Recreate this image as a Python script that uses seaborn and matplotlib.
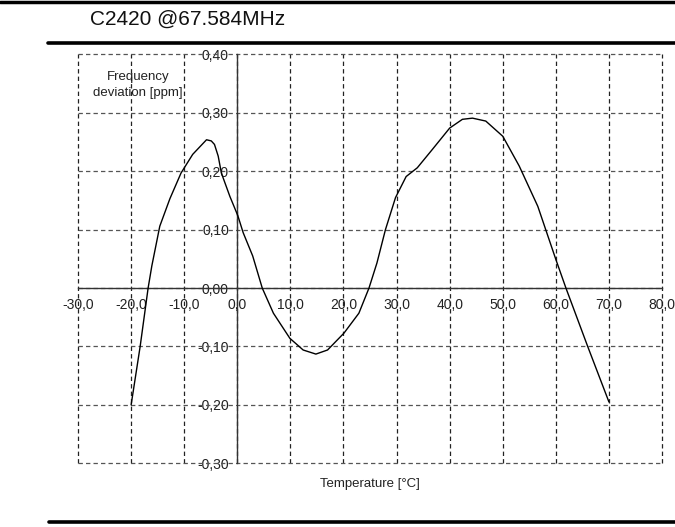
import matplotlib
matplotlib.use("Agg")
import matplotlib.pyplot as plt
import seaborn as sns
import pandas as pd
from matplotlib.lines import Line2D

# data
temperature = [-20.0, -18.3, -16.8, -16.1, -14.6, -12.7, -10.6, -8.4, -5.8, -4.9,
               -4.3, -3.6, -3.0, -1.4, 0.1, 1.1, 2.9, 4.7, 6.8, 9.9, 12.4,
               14.8, 17.0, 20.1, 22.9, 24.8, 26.3, 27.9, 29.8, 31.8, 33.9,
               36.7, 40.0, 42.4, 44.3, 46.8, 50.0, 53.1, 56.6, 60.0, 61.9,
               66.0, 70.0]
deviation = [-0.200, -0.100, 0.000, 0.038, 0.106, 0.153, 0.197, 0.229, 0.254, 0.252,
             0.246, 0.226, 0.197, 0.157, 0.124, 0.095, 0.055, 0.000, -0.043, -0.086, -0.106,
             -0.113, -0.106, -0.077, -0.043, 0.000, 0.043, 0.100, 0.155, 0.191, 0.206,
             0.237, 0.274, 0.289, 0.291, 0.286, 0.260, 0.209, 0.140, 0.049, 0.000,
             -0.100, -0.195]

x_ticks = [-30, -20, -10, 0, 10, 20, 30, 40, 50, 60, 70, 80]
x_labels = ["-30,0", "-20,0", "-10,0", "0,0", "10,0", "20,0", "30,0",
            "40,0", "50,0", "60,0", "70,0", "80,0"]
y_ticks = [-0.3, -0.2, -0.1, 0.0, 0.1, 0.2, 0.3, 0.4]
y_labels = ["-0,30", "-0,20", "-0,10", "0,00", "0,10", "0,20", "0,30", "0,40"]

title = "C2420 @67.584MHz"


def main():
    sns.set_theme(style="white")
    plt.rcParams['font.family'] = ['Liberation Sans', 'DejaVu Sans']

    df = pd.DataFrame({"temp": temperature, "dev": deviation})

    fig = plt.figure(figsize=(6.75, 5.27), dpi=100)
    ax = fig.add_axes([0.1156, 0.1209, 0.8652, 0.7757])

    sns.lineplot(data=df, x="temp", y="dev", sort=False, color="black",
                 linewidth=1.0, ax=ax, zorder=5)

    ax.set_xlim(-30, 80)
    ax.set_ylim(-0.3, 0.4)

    # dashed grid, edges included
    for xv in x_ticks:
        ax.axvline(xv, color="#222222", lw=0.9, ls=(0, (3.5, 2.5)), clip_on=False, zorder=1)
    for yv in y_ticks:
        ax.axhline(yv, color="#555555", lw=0.9, ls=(0, (3.5, 2.5)), clip_on=False, zorder=1)

    # axes crossing at the origin
    for side in ["top", "right"]:
        ax.spines[side].set_visible(False)
    ax.spines["left"].set_position(("data", 0))
    ax.spines["bottom"].set_position(("data", 0))
    for side in ["left", "bottom"]:
        ax.spines[side].set_color("#333333")
        ax.spines[side].set_linewidth(1.0)

    ax.set_xticks(x_ticks)
    ax.set_xticklabels(x_labels)
    ax.set_yticks(y_ticks)
    ax.set_yticklabels(y_labels)
    ax.tick_params(axis="both", direction="inout", length=6, width=0.9,
                   color="#333333", labelsize=10, labelcolor="#222222")
    ax.tick_params(axis="x", pad=4)
    ax.tick_params(axis="y", pad=3)

    ax.set_xlabel("Temperature [°C]", fontsize=9.5, color="#222222")
    ax.xaxis.set_label_coords(0.5, -0.05)
    ax.xaxis.label.set_verticalalignment("center")

    ax.set_ylabel("Frequency\ndeviation [ppm]", fontsize=9.5, color="#222222",
                  rotation=0, ha="center", va="center", linespacing=1.4)
    ax.yaxis.set_label_coords(0.103, 0.925)

    # heading and the thick rules of the page
    fig.text(90 / 675, 1 - 19.5 / 527, title, fontsize=15, ha="left", va="center",
             color="#111111")
    fig.add_artist(Line2D([0, 1], [1 - 1.5 / 527, 1 - 1.5 / 527], color="black", lw=2.5))
    fig.add_artist(Line2D([48 / 675, 1], [1 - 43.3 / 527, 1 - 43.3 / 527], color="black", lw=2.6))
    fig.add_artist(Line2D([49 / 675, 1], [1 - 522 / 527, 1 - 522 / 527], color="black", lw=2.6))

    fig.savefig("out.png", dpi=100)


if __name__ == "__main__":
    main()
